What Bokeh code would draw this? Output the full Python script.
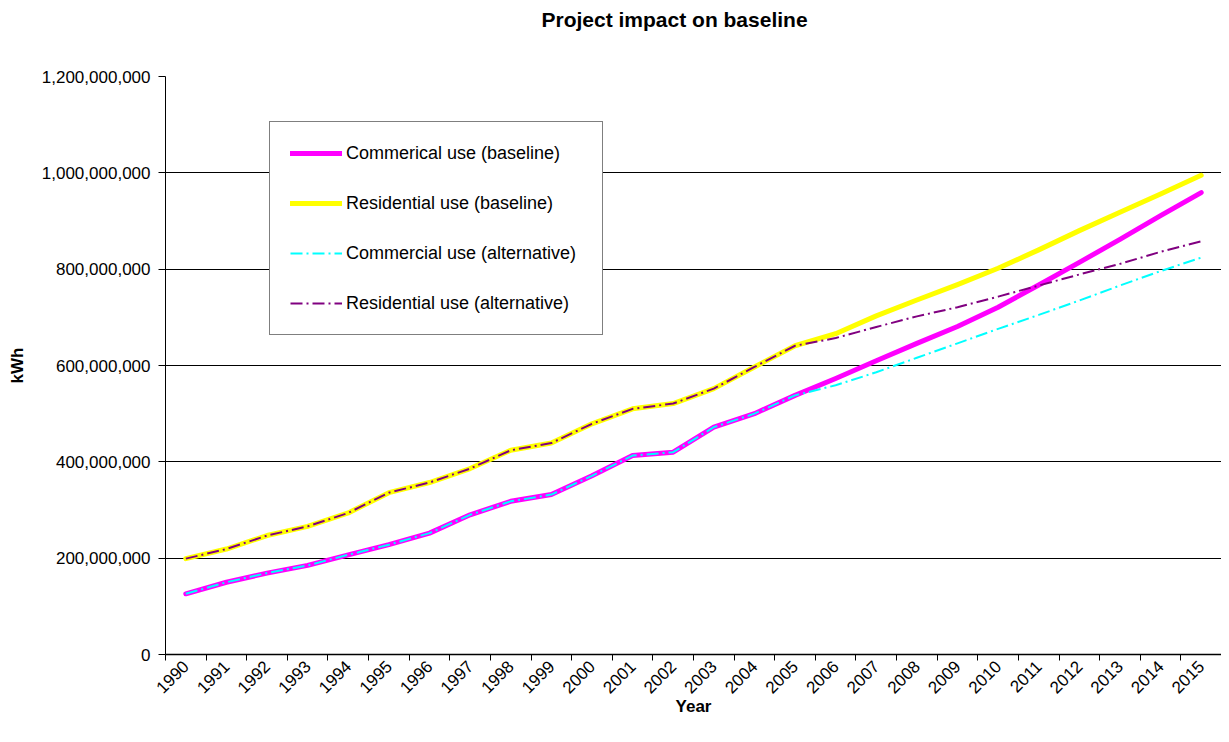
import math
from bokeh.plotting import figure
from bokeh.models import Range1d, FixedTicker, NumeralTickFormatter, Legend, LegendItem, Title
from bokeh.embed import file_html
from bokeh.resources import INLINE

# ---- data (kWh) ----
years = list(range(1990, 2016))
commercial_baseline_m = [126, 150, 169, 185, 207, 228, 252, 290, 318, 332, 371, 413, 420,
                         472, 500, 538, 573, 610, 646, 681, 721, 767, 814, 862, 911, 959]
residential_baseline_m = [199, 219, 247, 266, 294, 336, 357, 386, 424, 439, 479, 510, 521,
                          552, 597, 641, 666, 703, 736, 768, 802, 840, 880, 918, 956, 995]
commercial_alternative_m = [126, 150, 169, 185, 207, 228, 252, 290, 318, 332, 371, 413, 420,
                            472, 500, 538, 559, 586, 616, 646, 676, 705, 735, 766, 796, 824]
residential_alternative_m = [199, 219, 247, 266, 294, 336, 357, 386, 424, 439, 479, 510, 521,
                             552, 597, 641, 657, 680, 702, 721, 743, 766, 789, 811, 836, 858]
y_ticks = [0, 200000000, 400000000, 600000000, 800000000, 1000000000, 1200000000]

labels = ["Commerical use (baseline)", "Residential use (baseline)",
          "Commercial use (alternative)", "Residential use (alternative)"]

def to_kwh(vals):
    return [v * 1e6 for v in vals]

FONT = "Liberation Sans"

p = figure(frame_width=1056, frame_height=578, output_backend="svg", toolbar_location=None,
           x_range=Range1d(years[0] - 0.5, years[-1] + 0.5), y_range=Range1d(y_ticks[0], y_ticks[-1]),
           min_border_left=165, min_border_top=76, min_border_right=0, min_border_bottom=5,
           background_fill_color="white", border_fill_color="white")
p.outline_line_color = None

# spacer between title and plot area
p.add_layout(Title(text=" ", text_font_size="10px", standoff=29), "above")

# title
p.title.text = "Project impact on baseline"
p.title.text_font = FONT
p.title.text_font_size = "21px"
p.title.text_font_style = "bold"
p.title.text_color = "black"
p.title.align = "left"
p.title.offset = 376
p.title.standoff = 8

# grid
p.xgrid.visible = False
p.ygrid.grid_line_color = "black"
p.ygrid.grid_line_width = 1

# y axis
yax = p.yaxis[0]
yax.ticker = FixedTicker(ticks=y_ticks, minor_ticks=[])
yax.formatter = NumeralTickFormatter(format="0,0")
yax.axis_label = "kWh"
yax.axis_label_text_font = FONT
yax.axis_label_text_font_style = "bold"
yax.axis_label_text_font_size = "17px"
yax.axis_label_text_color = "black"
yax.axis_label_standoff = 12
yax.major_label_text_font = FONT
yax.major_label_text_font_size = "17px"
yax.major_label_text_color = "black"
yax.major_label_standoff = 8
yax.major_tick_out = 7
yax.major_tick_in = 0
yax.minor_tick_out = 0
yax.minor_tick_in = 0
yax.axis_line_color = "black"
yax.major_tick_line_color = "black"

# x axis
xax = p.xaxis[0]
xax.ticker = FixedTicker(ticks=years, minor_ticks=[y - 0.5 for y in years] + [years[-1] + 0.5])
xax.major_label_overrides = {y: str(y) for y in years}
xax.major_label_orientation = math.pi / 4
xax.major_label_text_font = FONT
xax.major_label_text_font_size = "17px"
xax.major_label_text_color = "black"
xax.major_label_standoff = 3
xax.major_tick_out = 0
xax.major_tick_in = 0
xax.minor_tick_out = 6
xax.minor_tick_in = 0
xax.minor_tick_line_color = "black"
xax.axis_line_color = "black"
xax.axis_line_width = 1.5
xax.axis_label = "Year"
xax.axis_label_text_font = FONT
xax.axis_label_text_font_style = "bold"
xax.axis_label_text_font_size = "17px"
xax.axis_label_text_color = "black"
xax.axis_label_standoff = -5

# lines
r1 = p.line(years, to_kwh(commercial_baseline_m), line_color="#FF00FF", line_width=5,
            line_cap="round", line_join="round")
r2 = p.line(years, to_kwh(residential_baseline_m), line_color="#FFFF00", line_width=5,
            line_cap="round", line_join="round")
r3 = p.line(years, to_kwh(commercial_alternative_m), line_color="#00FFFF", line_width=2,
            line_dash="12 4 2 4")
r4 = p.line(years, to_kwh(residential_alternative_m), line_color="#800080", line_width=2,
            line_dash="12 4 2 4")

legend = Legend(items=[LegendItem(label=labels[0], renderers=[r1]),
                       LegendItem(label=labels[1], renderers=[r2]),
                       LegendItem(label=labels[2], renderers=[r3]),
                       LegendItem(label=labels[3], renderers=[r4])],
                location=(104, 319), orientation="vertical",
                padding=20, margin=0, spacing=28,
                glyph_width=52, glyph_height=22, label_standoff=4, label_width=236,
                label_text_font=FONT, label_text_font_size="18px", label_text_color="black",
                border_line_color="black", border_line_width=1,
                background_fill_color="white", background_fill_alpha=1)
p.add_layout(legend, "center")

open("out.html", "w").write(file_html(p, INLINE))
